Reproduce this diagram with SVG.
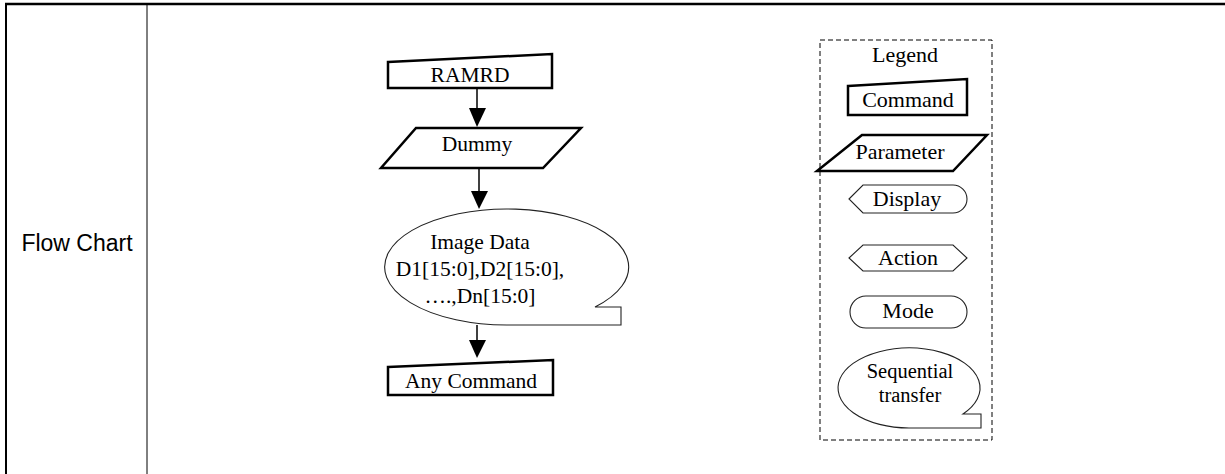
<svg xmlns="http://www.w3.org/2000/svg" width="1225" height="474" viewBox="0 0 1225 474">
<style>
.t{font-family:"Liberation Serif","Times New Roman",serif;font-size:21.5px;fill:#000;text-anchor:middle}
.l{font-family:"Liberation Serif","Times New Roman",serif;font-size:22px;fill:#000;text-anchor:middle}
.q{font-family:"Liberation Serif","Times New Roman",serif;font-size:20.5px;fill:#000;text-anchor:middle}
.s{font-family:"Liberation Sans",Arial,sans-serif;font-size:23px;fill:#000;text-anchor:middle}
.cmd{fill:#fff;stroke:#000;stroke-width:2.5;stroke-linejoin:miter}
.thin{fill:#fff;stroke:#222;stroke-width:1.1}
.ln{stroke:#000;stroke-width:1.5;fill:none}
.ah{fill:#000}
</style>
<rect width="1225" height="474" fill="#fff"/>
<g id="table">
<line x1="5" y1="4" x2="1225" y2="4" stroke="#000" stroke-width="2.5"/>
<line x1="6" y1="3" x2="6" y2="474" stroke="#000" stroke-width="2"/>
<line x1="147" y1="4" x2="147" y2="474" stroke="#000" stroke-width="1"/>
<text class="s" x="77" y="251">Flow Chart</text>
</g>
<g id="connectors">
<line class="ln" x1="477" y1="88" x2="477" y2="110"/>
<polygon class="ah" points="469,108 486,108 477,127"/>
<line class="ln" x1="479" y1="168" x2="479" y2="193"/>
<polygon class="ah" points="471,191 488,191 479,209"/>
<line class="ln" x1="477" y1="325" x2="477" y2="342"/>
<polygon class="ah" points="469,340 486,340 477,358"/>
</g>
<g id="ramrd">
<polygon class="cmd" points="388,62 552,54 552,88 388,88"/>
<text class="t" x="470" y="82">RAMRD</text>
</g>
<g id="dummy">
<polygon class="cmd" points="416,128 581,128 543,168 381,168"/>
<text class="t" x="477" y="151">Dummy</text>
</g>
<g id="imagedata">
<path class="thin" d="M507,325 A122 58 0 1 1 595,307 L621,307 L621,325 Z"/>
<text class="t" x="480" y="249">Image Data</text>
<text class="t" x="480" y="276">D1[15:0],D2[15:0],</text>
<text class="t" x="480" y="303">….,Dn[15:0]</text>
</g>
<g id="anycommand">
<polygon class="cmd" points="388,367 553,360 553,395 388,395"/>
<text class="t" x="471" y="388">Any Command</text>
</g>
<g id="legend">
<rect x="820" y="40" width="172" height="400" fill="none" stroke="#000" stroke-width="1" stroke-dasharray="5,3"/>
<text class="l" x="905" y="62">Legend</text>
</g>
<g id="leg-command">
<polygon class="cmd" points="848,86 967,79 967,115 848,115"/>
<text class="l" x="908" y="107">Command</text>
</g>
<g id="leg-parameter">
<polygon class="cmd" points="862,135 987,135 953,171 817,171"/>
<text class="l" x="900" y="159">Parameter</text>
</g>
<g id="leg-display">
<path class="thin" d="M849,199 L863,185 L953,185 A14 14 0 0 1 953,213 L863,213 Z"/>
<text class="l" x="907" y="206">Display</text>
</g>
<g id="leg-action">
<path class="thin" d="M849,258 L863,245 L953,245 L967,258 L953,271 L863,271 Z"/>
<text class="l" x="908" y="265">Action</text>
</g>
<g id="leg-mode">
<rect class="thin" x="850" y="296" width="117" height="32" rx="16" ry="16"/>
<text class="l" x="908" y="318">Mode</text>
</g>
<g id="leg-sequential">
<path class="thin" d="M909,428 A71 40 0 1 1 963,414 L981,414 L981,428 Z"/>
<text class="q" x="910" y="378">Sequential</text>
<text class="q" x="910" y="402">transfer</text>
</g>
</svg>
